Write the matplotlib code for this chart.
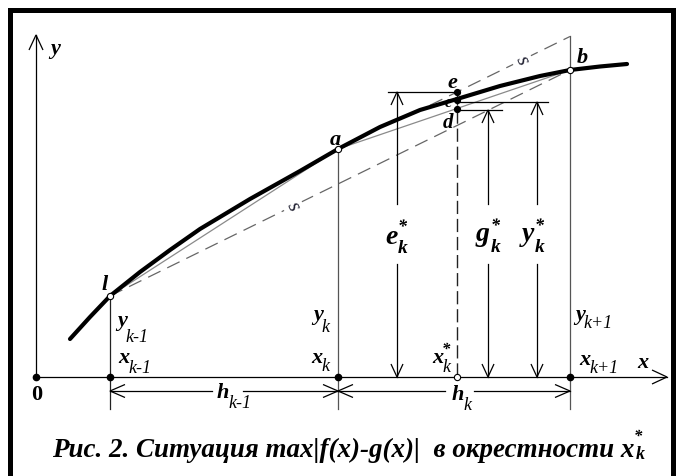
import matplotlib
matplotlib.use("Agg")
import matplotlib.pyplot as plt
import numpy as np

# ---------------- data (pixel units) ----------------
curve_x = [70, 90, 110, 140, 170, 200, 250, 300, 338, 380, 420, 457, 500, 540, 570, 600, 627]
curve_y = [340, 318, 297, 273, 251, 230, 200, 172, 150, 128, 111, 100, 87, 77, 71, 67.5, 65]

node_x = [110, 338, 570]          # x_{k-1}, x_k, x_{k+1}
node_y = [297, 150, 71]           # points l, a, b
node_names = ["l", "a", "b"]
x_star = 457
star_names = ["e", "c", "d"]
star_y = [93, 101, 110]
axis_y0 = 378
axis_x0 = 36
level_y = [93, 111, 103]          # tops of e*, g*, y* arrows
level_x = [397, 488, 537]         # x of e*, g*, y* arrows
level_names = ["e", "g", "y"]

# ---------------- figure ----------------
W, H = 676, 477
fig = plt.figure(figsize=(W / 100, H / 100), dpi=100)
ax = fig.add_axes([0, 0, 1, 1])
ax.set_xlim(0, W)
ax.set_ylim(H, 0)
ax.axis("off")

SERIF = "Liberation Serif"
MAIN = 16
SUB = 13


def chevron(tx, ty, dx, dy, length=13, half=6, lw=0.9, color="k"):
    n = np.hypot(dx, dy)
    dx, dy = dx / n, dy / n
    px, py = -dy, dx
    bx, by = tx - dx * length, ty - dy * length
    ax.plot([bx + px * half, tx, bx - px * half],
            [by + py * half, ty, by - py * half],
            color=color, lw=lw, solid_joinstyle="miter", solid_capstyle="butt")


def txt(x, y, s, size=MAIN, bold=True, italic=True, ha="left", va="baseline", **kw):
    return ax.text(x, y, s, fontsize=size, family=SERIF,
                   weight="bold" if bold else "normal",
                   style="italic" if italic else "normal",
                   ha=ha, va=va, **kw)


renderer = fig.canvas.get_renderer()


def right_edge(t):
    return t.get_window_extent(renderer=renderer).x1


def lab(x, y, main, sub=None, sub_dy=10, sup=None, sup_dy=-9, size=MAIN,
        subsize=SUB, subbold=False, supsize=12, dx=-1):
    t = txt(x, y, main, size=size)
    xr = right_edge(t) + dx
    if sup is not None:
        txt(xr, y + sup_dy, sup, size=supsize)
    if sub is not None:
        txt(xr, y + sub_dy, sub, size=subsize, bold=subbold)


# frame
ax.plot([9.5, 9.5, 673, 673], [H, 10.5, 10.5, H], color="k", lw=3.6,
        solid_joinstyle="miter")

# axes
ax.plot([axis_x0, axis_x0], [axis_y0, 36], color="k", lw=0.9)
chevron(axis_x0, 36, 0, -1, length=15, half=7)
ax.plot([axis_x0, 667], [axis_y0, axis_y0], color="k", lw=0.9)
chevron(667, axis_y0, 1, 0, length=15, half=7)

# vertical ordinates
ax.plot([node_x[0], node_x[0]], [node_y[0], 410], color="#222", lw=0.9)
ax.plot([node_x[1], node_x[1]], [node_y[1], 410], color="#555", lw=0.9)
ax.plot([node_x[2], node_x[2]], [37, 410], color="#555", lw=0.9)
ax.plot([x_star, x_star], [star_y[0], axis_y0], color="#222", lw=1.0,
        dashes=(9.5, 3.5))

# chords
ax.plot(node_x[:2], node_y[:2], color="#8a8a8a", lw=0.9)
ax.plot(node_x[1:], node_y[1:], color="#8a8a8a", lw=0.9)
# dashed chord l-b  (s)
ax.plot([node_x[0], node_x[2]], [node_y[0], node_y[2]], color="#666", lw=0.9,
        dashes=(11, 6))
slope = (node_y[2] - node_y[0]) / (node_x[2] - node_x[0])
# dashed parallel through e (s)
xe0, xe1 = 430, node_x[2]
ax.plot([xe0, xe1], [star_y[0] + slope * (xe0 - x_star), star_y[0] + slope * (xe1 - x_star)],
        color="#666", lw=0.9, dashes=(11, 6))
ang = -np.degrees(np.arctan(slope))
for sx in (293, 522):
    if sx < x_star:
        sy = node_y[0] + slope * (sx - node_x[0])
    else:
        sy = star_y[0] + slope * (sx - x_star)
    txt(sx, sy, "s", size=15, bold=False, ha="center", va="center", rotation=ang - 90,
        color="#223", bbox=dict(fc="white", ec="none", pad=0.3))

# the curve f(x)
ax.plot(curve_x, curve_y, color="k", lw=3.0, solid_capstyle="round", solid_joinstyle="round")

# horizontal levels
ax.plot([388, x_star], [level_y[0], level_y[0]], color="k", lw=0.9)
ax.plot([x_star, 548], [level_y[2], level_y[2]], color="k", lw=0.9)
ax.plot([x_star, 502], [level_y[1], level_y[1]], color="k", lw=0.9)

# vertical double arrows with gap for labels
for lx, ly in zip(level_x, level_y):
    ax.plot([lx, lx], [ly, 205], color="k", lw=0.9)
    ax.plot([lx, lx], [265, axis_y0], color="k", lw=0.9)
    chevron(lx, ly, 0, -1)
    chevron(lx, axis_y0, 0, 1)

# h dimension arrows
hy = 392
ax.plot([node_x[0], 212], [hy, hy], color="k", lw=0.9)
ax.plot([243, node_x[1]], [hy, hy], color="k", lw=0.9)
ax.plot([node_x[1], 445], [hy, hy], color="k", lw=0.9)
ax.plot([474, node_x[2]], [hy, hy], color="k", lw=0.9)
chevron(node_x[0], hy, -1, 0, length=15, half=6.5)
chevron(node_x[1], hy, 1, 0, length=15, half=6.5)
chevron(node_x[1], hy, -1, 0, length=15, half=6.5)
chevron(node_x[2], hy, 1, 0, length=15, half=6.5)

# markers
ax.plot(node_x, node_y, "o", ms=4.5, mfc="white", mec="k", mew=0.8, zorder=5)
ax.plot([x_star] * 3, star_y, "o", ms=4.2, color="k", zorder=5)
ax.plot([axis_x0] + node_x, [axis_y0] * 4, "o", ms=4.5, color="k", zorder=5)
ax.plot([x_star], [axis_y0], "o", ms=4.5, mfc="white", mec="k", mew=0.8, zorder=5)

# ---------------- labels ----------------
txt(50, 54, "y")
txt(637, 368, "x")
txt(31, 400, "0", italic=False)
txt(102, 290, node_names[0])
txt(330, 145, node_names[1])
txt(577, 63, node_names[2])
txt(447, 88, star_names[0])
txt(445, 107, star_names[1], size=12)
txt(443, 128, star_names[2], size=15)

lab(117, 326, "y", "k-1", sub_dy=16)
lab(118, 363, "x", "k-1", sub_dy=10)
lab(313, 320, "y", "k", sub_dy=12)
lab(311, 363, "x", "k", sub_dy=8)
lab(432, 363, "x", "k", sub_dy=9, sup="*", sup_dy=-9)
lab(575, 320, "y", "k+1", sub_dy=8)
lab(579, 365, "x", "k+1", sub_dy=8)
lab(217, 398, "h", "k-1", sub_dy=10)
lab(452, 400, "h", "k", sub_dy=10)

# arrow labels e*_k, g*_k, y*_k
BIG = 20
lab(385, 244, level_names[0], "k", sub_dy=9, sup="*", sup_dy=-12, size=BIG,
    subsize=14, subbold=True, supsize=13, dx=0.5)
lab(476, 241, level_names[1], "k", sub_dy=11, sup="*", sup_dy=-10, size=BIG,
    subsize=14, subbold=True, supsize=13, dx=0.5)
lab(522, 241, level_names[2], "k", sub_dy=11, sup="*", sup_dy=-10, size=BIG,
    subsize=14, subbold=True, supsize=13, dx=0.5)

# caption
cap = "Рис. 2. Ситуация max|f(x)-g(x)|  в окрестности x"
t = txt(52, 457, cap, size=18)
bb = t.get_window_extent(renderer=renderer)
target = 634 - 52
t.set_fontsize(18 * target / bb.width)
bb = t.get_window_extent(renderer=renderer)
x_end = bb.x1
txt(x_end - 1, 441, "*", size=12)
txt(x_end + 1, 459, "k", size=13)

fig.savefig("out.png", dpi=100)
